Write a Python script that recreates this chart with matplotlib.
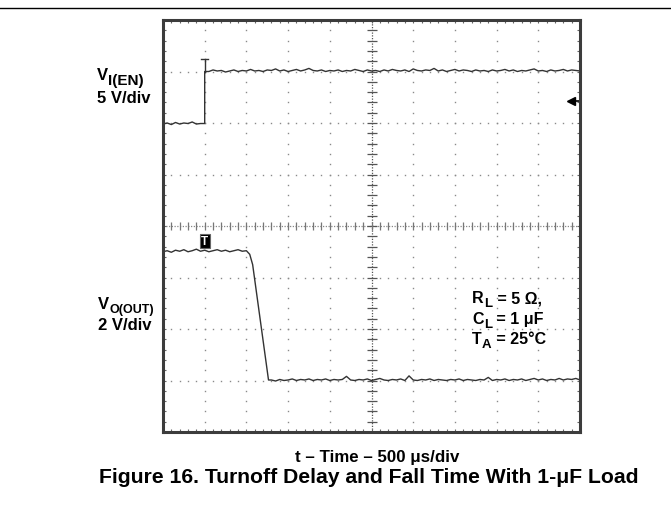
import numpy as np
import matplotlib.pyplot as plt
from matplotlib.lines import Line2D

plt.rcParams['font.family'] = ['Liberation Sans', 'DejaVu Sans']
plt.rcParams['font.weight'] = 'bold'

W, H = 671, 506

# scope trace levels, in divisions (0 = bottom of screen, 8 = top)
en_low = [5.98, 6.00, 5.97, 6.01, 5.98, 6.00, 5.99, 6.02, 5.98, 5.99]
en_step_x = 1.0
en_high = [7.00, 7.03, 7.01, 7.02, 6.99, 7.01, 7.03, 7.00, 7.02, 7.01,
           7.04, 7.01, 7.02, 7.00, 7.03, 7.02, 7.05, 7.01, 7.03, 7.00,
           7.02, 7.04, 7.01, 7.03, 7.06, 7.02, 7.01, 7.03, 7.00, 7.02,
           7.01, 7.03, 7.00, 7.02, 7.01, 7.04, 7.02, 7.00, 7.03, 7.01,
           7.02, 7.00, 7.03, 7.01, 7.04, 7.02, 7.01, 7.03, 7.00, 7.05,
           7.02, 7.01, 7.03, 7.02, 7.06, 7.01, 7.03, 7.00, 7.02, 7.04,
           7.01, 7.03, 7.02, 7.00, 7.03, 7.01, 7.02, 7.00, 7.03, 7.01,
           7.02, 7.04, 7.01, 7.03, 7.00, 7.02, 7.01, 7.03, 7.05, 7.01,
           7.02, 7.00, 7.03, 7.01, 7.02, 7.04, 7.01, 7.03, 7.02, 7.01]
en_trig_top = 7.25

out_high = [3.50, 3.52, 3.49, 3.53, 3.51, 3.54, 3.50, 3.52, 3.55, 3.51,
            3.53, 3.50, 3.52, 3.54, 3.51, 3.53, 3.50, 3.52, 3.54, 3.51, 3.52]
out_fall_x = [2.08, 2.15, 2.53]
out_fall_y = [3.45, 3.25, 1.01]
out_low = [1.01, 0.99, 1.02, 1.00, 1.01, 1.03, 1.00, 1.02, 1.01, 1.03,
           1.00, 1.02, 1.01, 1.03, 1.00, 1.02, 1.01, 1.02, 1.08, 1.01,
           1.00, 1.02, 1.01, 1.03, 1.00, 1.02, 1.04, 1.01, 1.00, 1.02,
           1.01, 1.03, 1.00, 1.09, 1.01, 1.00, 1.02, 1.01, 1.03, 1.00,
           1.02, 1.01, 1.00, 1.02, 1.01, 1.03, 1.00, 1.02, 1.01, 1.00,
           1.02, 1.01, 1.06, 1.00, 1.02, 1.01, 1.03, 1.00, 1.02, 1.01,
           1.03, 1.00, 1.02, 1.04, 1.01, 1.03, 1.00, 1.02, 1.01, 1.04,
           1.01, 1.03, 1.02, 1.04, 1.01]
out_trig = (1.0, 3.71)
ref_arrow_y = 6.43

TRACE = '#333333'
GRID = '#8a8a8a'

fig = plt.figure(figsize=(W / 100, H / 100), dpi=100)
ax = fig.add_axes([163 / W, 1 - 433 / H, 417 / W, 412 / H])
ax.set_xlim(0, 10)
ax.set_ylim(0, 8)
ax.set_xticks([])
ax.set_yticks([])
for s in ax.spines.values():
    s.set_linewidth(2.2)
    s.set_color('#3c3c3c')

# graticule: dots at every minor (1/5 div) position on each major line
xm = np.arange(0, 10.01, 0.2)
ym = np.arange(0, 8.01, 0.2)
for gx in range(1, 10):
    if gx != 5:
        ax.plot(np.full(len(ym), gx), ym, ls='none', marker='s', ms=1.0,
                mew=0, color=GRID)
for gy in range(1, 8):
    if gy != 4:
        ax.plot(xm, np.full(len(xm), gy), ls='none', marker='s', ms=1.0,
                mew=0, color=GRID)
# centre lines with ticks
ax.axvline(5, ls=(0, (1, 1.2)), lw=0.9, color='#555555')
ax.axhline(4, ls=(0, (1, 1.2)), lw=0.9, color='#888888')
ax.plot(np.full(len(ym), 5), ym, ls='none', marker='_', ms=7, mew=0.9,
        color='#555555')
ax.plot(xm, np.full(len(xm), 4), ls='none', marker='|', ms=6, mew=0.9,
        color='#777777')
# border ticks
for yy in (0, 8):
    ax.plot(xm, np.full(len(xm), yy), ls='none', marker='|', ms=5, mew=0.8,
            color='#666666')
for xx in (0, 10):
    ax.plot(np.full(len(ym), xx), ym, ls='none', marker='_', ms=5, mew=0.8,
            color='#666666')

# V_I(EN) trace
x_en_low = np.linspace(0, 0.9, len(en_low))
x_en_high = np.linspace(1.1, 10.0, len(en_high))
ax.plot(list(x_en_low) + [en_step_x, en_step_x] + list(x_en_high),
        en_low + [en_low[-1], en_high[0]] + en_high, color=TRACE, lw=1.0)
ax.plot([en_step_x, en_step_x], [en_high[0], en_trig_top], color=TRACE, lw=1.0)
ax.plot([en_step_x - 0.08, en_step_x + 0.08], [en_trig_top, en_trig_top],
        color=TRACE, lw=1.0)

# V_O(OUT) trace
x_out_high = np.linspace(0, 2.0, len(out_high))
x_out_low = np.linspace(2.6, 10.0, len(out_low))
ax.plot(list(x_out_high) + out_fall_x + list(x_out_low),
        out_high + out_fall_y + out_low, color=TRACE, lw=1.0)
ax.text(out_trig[0], out_trig[1], 'T', color='white', fontsize=8.5,
        fontweight='bold', ha='center', va='center',
        bbox=dict(boxstyle='square,pad=0.12', fc='black', ec='#666666', lw=0.8))

# reference level arrow
ax.plot([9.78, 9.97], [ref_arrow_y, ref_arrow_y], color='black', lw=1.2)
ax.plot([9.78], [ref_arrow_y], marker='<', ms=6, color='black')


def ftext(x, y, s, **kw):
    return fig.text(x / W, 1 - y / H, s, va='baseline', fontweight='bold', **kw)


def sub_text(x, y, main, sub, size, sub_size, rest=''):
    # main letter, then a lowered subscript, then the rest of the line
    t = ftext(x, y, main, fontsize=size)
    r = fig.canvas.get_renderer()
    bb = t.get_window_extent(r)
    s = fig.text((bb.x1 + 0.3) / W, 1 - (y + sub_size * 0.45) / H, sub,
                 fontsize=sub_size, fontweight='bold', va='baseline')
    if rest:
        sb = s.get_window_extent(r)
        fig.text((sb.x1 + 0.5) / W, 1 - y / H, rest, fontsize=size,
                 fontweight='bold', va='baseline')


sub_text(97, 80, 'V', 'I(EN)', 12, 11)
ftext(97, 103, '5 V/div', fontsize=12)
sub_text(98, 309, 'V', 'O(OUT)', 12, 9)
ftext(98, 330, '2 V/div', fontsize=12)
sub_text(472, 303, 'R', 'L', 11.5, 9.5, ' = 5 Ω,')
sub_text(472, 324, 'C', 'L', 11.5, 9.5, ' = 1 μF')
sub_text(472, 344, 'T', 'A', 11.5, 9.5, ' = 25°C')
ftext(377, 462, 't – Time – 500 μs/div', fontsize=12.2, ha='center')
ftext(369, 483, 'Figure 16. Turnoff Delay and Fall Time With 1-μF Load',
      fontsize=15.2, ha='center')

fig.add_artist(Line2D([0, 1], [1 - 9 / H, 1 - 9 / H], color='black', lw=1.0))

fig.savefig('out.png', dpi=100)
